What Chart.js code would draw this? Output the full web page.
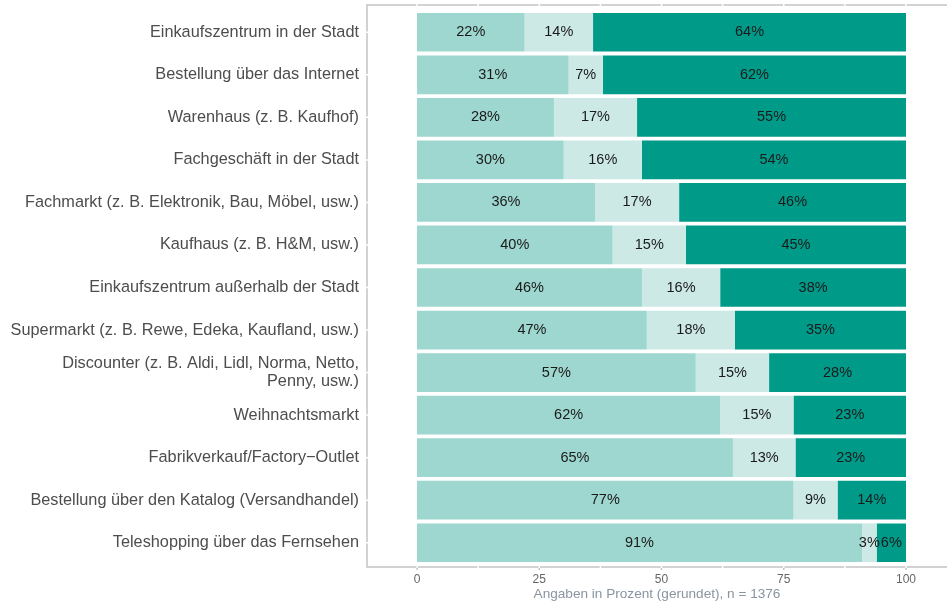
<!DOCTYPE html>
<html>
<head>
<meta charset="utf-8">
<script src="https://cdn.jsdelivr.net/npm/chart.js@4"></script>
<style>
  html, body { margin: 0; padding: 0; background: #fff; }
  #wrap { width: 947px; height: 602px; }
</style>
</head>
<body>
<div id="wrap"><canvas id="chart" width="947" height="602"></canvas></div>
<script>
// =======================
//  DATA
// =======================
const categories = [
  "Einkaufszentrum in der Stadt",
  "Bestellung über das Internet",
  "Warenhaus (z. B. Kaufhof)",
  "Fachgeschäft in der Stadt",
  "Fachmarkt (z. B. Elektronik, Bau, Möbel, usw.)",
  "Kaufhaus (z. B. H&M, usw.)",
  "Einkaufszentrum außerhalb der Stadt",
  "Supermarkt (z. B. Rewe, Edeka, Kaufland, usw.)",
  ["Discounter (z. B. Aldi, Lidl, Norma, Netto,", "Penny, usw.)"],
  "Weihnachtsmarkt",
  "Fabrikverkauf/Factory\u2212Outlet",
  "Bestellung über den Katalog (Versandhandel)",
  "Teleshopping über das Fernsehen"
];

// share of answers per category (percent, labels are rounded)
const lightValues = [22, 31, 28, 30, 36.4, 40, 46, 47, 57, 62, 64.6, 77, 91];
const midValues   = [14,  7, 17, 16, 17.2, 15, 16, 18, 15, 15, 12.8,  9,  3];
const darkValues  = [64, 62, 55, 54, 46.4, 45, 38, 35, 28, 23, 22.6, 14,  6];

const xTicks = [0, 25, 50, 75, 100];
const xTitle = "Angaben in Prozent (gerundet), n = 1376";

// =======================
//  PLUGINS
// =======================
// grey panel border with white grid lines crossing it
const panelBorder = {
  id: "panelBorder",
  beforeDatasetsDraw(chart) {
    const ctx = chart.ctx;
    const a = chart.chartArea;
    const xs = chart.scales.x;
    const ys = chart.scales.y;
    const top = a.top - 6, bottom = a.bottom + 3;
    ctx.save();
    ctx.strokeStyle = "#c4c4c4";
    ctx.lineWidth = 1.5;
    ctx.beginPath();
    ctx.moveTo(a.right + 2, top);
    ctx.lineTo(a.left, top);
    ctx.lineTo(a.left, bottom);
    ctx.lineTo(a.right + 2, bottom);
    ctx.stroke();
    // tick marks under the panel
    ctx.beginPath();
    xTicks.forEach(v => {
      const px = xs.getPixelForValue(v);
      ctx.moveTo(px, bottom);
      ctx.lineTo(px, bottom + 3);
    });
    ctx.stroke();
    // white grid lines (major + minor)
    ctx.strokeStyle = "#ffffff";
    ctx.lineWidth = 1.5;
    ctx.beginPath();
    for (let v = 0; v <= 100; v += 12.5) {
      const px = xs.getPixelForValue(v);
      ctx.moveTo(px, top - 2);
      ctx.lineTo(px, top + 2);
      ctx.moveTo(px, bottom - 2);
      ctx.lineTo(px, bottom + 1);
    }
    categories.forEach((c, i) => {
      const py = ys.getPixelForValue(i);
      ctx.moveTo(a.left - 2, py);
      ctx.lineTo(a.left + 2, py);
    });
    ctx.stroke();
    ctx.restore();
  }
};

// percentage labels centred in each segment
const barLabels = {
  id: "barLabels",
  afterDatasetsDraw(chart) {
    const ctx = chart.ctx;
    ctx.save();
    ctx.font = "14.5px 'Liberation Sans', Arial, sans-serif";
    ctx.fillStyle = "#1a1a1a";
    ctx.textAlign = "center";
    ctx.textBaseline = "middle";
    chart.data.datasets.forEach((ds, di) => {
      chart.getDatasetMeta(di).data.forEach((bar, i) => {
        const p = bar.getProps(["x", "base", "y"], true);
        const cx = (p.x + p.base) / 2;
        ctx.fillText(Math.round(ds.data[i]) + "%", cx, p.y);
      });
    });
    ctx.restore();
  }
};

// =======================
//  CHART
// =======================
const PX_PER_UNIT = 4.89;
const chart = new Chart(document.getElementById("chart"), {
  type: "bar",
  data: {
    labels: categories,
    datasets: [
      { data: lightValues, backgroundColor: "#9dd7cf" },
      { data: midValues,   backgroundColor: "#cce9e6" },
      { data: darkValues,  backgroundColor: "#009a89" }
    ]
  },
  options: {
    indexAxis: "y",
    responsive: false,
    animation: false,
    layout: { padding: { top: 11, right: 0, bottom: 0, left: 0 } },
    datasets: {
      bar: { categoryPercentage: 0.91, barPercentage: 1, borderWidth: 0 }
    },
    plugins: { legend: { display: false }, tooltip: { enabled: false } },
    scales: {
      x: {
        stacked: true,
        min: -50 / PX_PER_UNIT,
        max: 530 / PX_PER_UNIT,
        border: { display: false },
        grid: { display: false, drawTicks: false },
        afterBuildTicks: s => { s.ticks = xTicks.map(v => ({ value: v })); },
        afterFit: s => { s.height = 38; s.paddingLeft = 0; s.paddingRight = 0; },
        ticks: {
          padding: 8,
          color: "#666666",
          font: { family: "'Liberation Sans', Arial, sans-serif", size: 12 }
        },
        title: {
          display: true,
          text: xTitle,
          color: "#8a95a1",
          padding: { top: 0, bottom: 0 },
          font: { family: "'Liberation Sans', Arial, sans-serif", size: 13.6 }
        }
      },
      y: {
        stacked: true,
        border: { display: false },
        grid: { display: false, drawTicks: false },
        afterFit: s => { s.width = 367; s.paddingTop = 0; s.paddingBottom = 0; },
        ticks: {
          padding: 8,
          color: "#4d4d4d",
          font: { family: "'Liberation Sans', Arial, sans-serif", size: 16.3, lineHeight: 1.1 }
        }
      }
    }
  },
  plugins: [panelBorder, barLabels]
});
</script>
</body>
</html>
